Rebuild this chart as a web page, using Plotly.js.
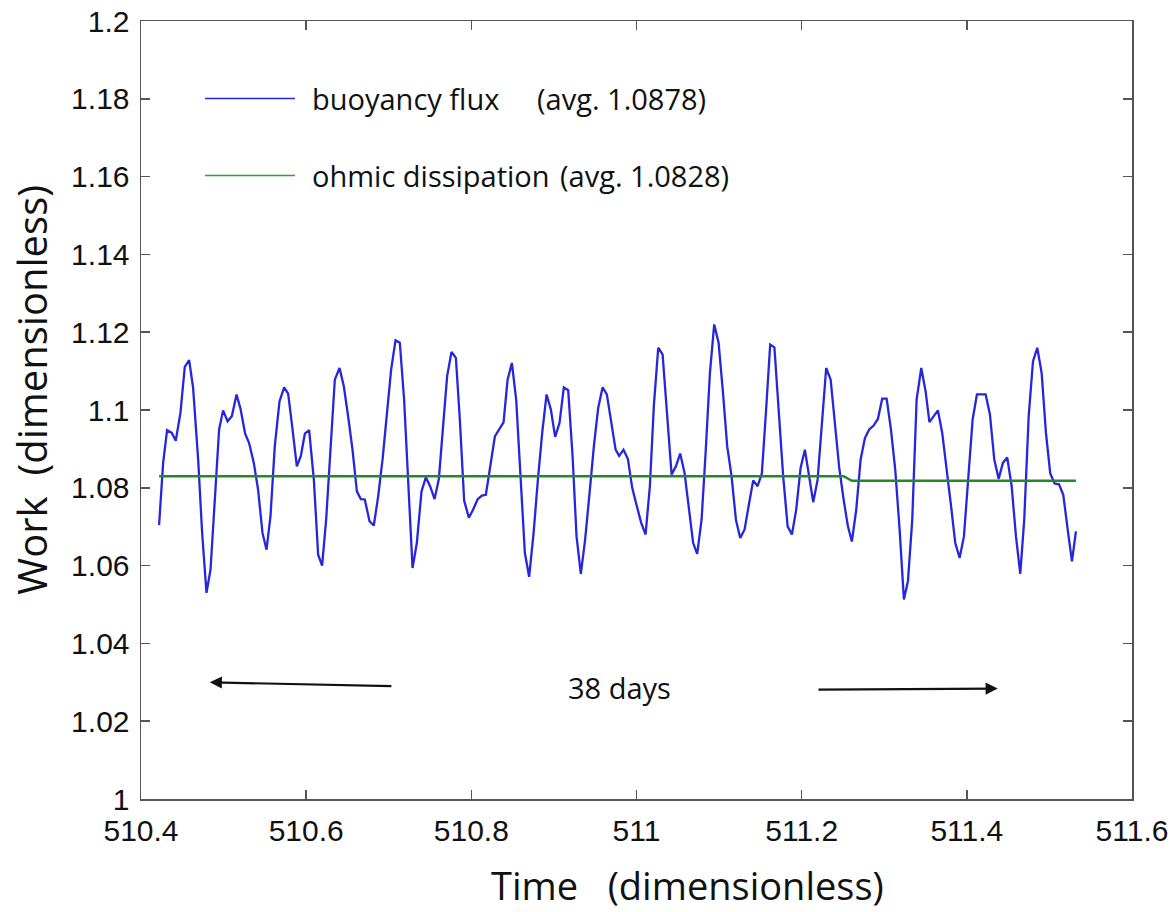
<!DOCTYPE html>
<html>
<head>
<meta charset="utf-8">
<script src="https://cdn.plot.ly/plotly-3.0.1.min.js"></script>
<style>html,body{margin:0;padding:0;background:#fff;}#chart{width:1176px;height:912px;}</style>
</head>
<body>
<div id="chart"></div>
<script>
// Time (dimensionless)
const time = [
510.4219,510.4268,510.4316,510.4373,510.4421,510.4478,510.4530,510.4583,510.4631,510.4692,
510.4740,510.4793,510.4842,510.4894,510.4946,510.4994,510.5048,510.5100,510.5157,510.5205,
510.5261,510.5309,510.5366,510.5418,510.5471,510.5520,510.5568,510.5620,510.5677,510.5733,
510.5782,510.5835,510.5887,510.5935,510.5984,510.6036,510.6093,510.6145,510.6193,510.6242,
510.6295,510.6347,510.6404,510.6456,510.6508,510.6561,510.6614,510.6662,510.6710,510.6767,
510.6819,510.6872,510.6925,510.6977,510.7029,510.7082,510.7134,510.7186,510.7235,510.7288,
510.7340,510.7397,510.7449,510.7501,510.7555,510.7607,510.7655,510.7707,510.7760,510.7813,
510.7861,510.7913,510.7970,510.8022,510.8075,510.8127,510.8176,510.8233,510.8285,510.8337,
510.8390,510.8439,510.8491,510.8543,510.8596,510.8648,510.8700,510.8754,510.8806,510.8858,
510.8911,510.8963,510.9015,510.9068,510.9120,510.9173,510.9226,510.9274,510.9326,510.9378,
510.9432,510.9484,510.9536,510.9589,510.9641,510.9693,510.9747,510.9790,510.9843,510.9896,
510.9948,511.0005,511.0057,511.0110,511.0162,511.0210,511.0263,511.0316,511.0368,511.0425,
511.0477,511.0529,511.0582,511.0634,511.0686,511.0735,511.0788,511.0837,511.0889,511.0941,
511.0994,511.1046,511.1098,511.1151,511.1204,511.1256,511.1309,511.1361,511.1413,511.1466,
511.1518,511.1567,511.1619,511.1670,511.1716,511.1776,511.1830,511.1882,511.1934,511.1987,
511.2039,511.2091,511.2140,511.2193,511.2245,511.2297,511.2351,511.2403,511.2455,511.2508,
511.2560,511.2608,511.2661,511.2714,511.2766,511.2818,511.2871,511.2923,511.2975,511.3029,
511.3081,511.3133,511.3186,511.3238,511.3287,511.3339,511.3392,511.3448,511.3501,511.3547,
511.3598,511.3650,511.3702,511.3755,511.3807,511.3860,511.3913,511.3965,511.4017,511.4070,
511.4122,511.4174,511.4228,511.4280,511.4332,511.4385,511.4437,511.4489,511.4543,511.4595,
511.4647,511.4695,511.4749,511.4801,511.4853,511.4906,511.4958,511.5010,511.5063,511.5116,
511.5168,511.5221,511.5273,511.5321
];
// Work, buoyancy flux
const buoyancyFlux = [
1.0704,1.0864,1.0948,1.0941,1.0921,1.0993,1.1111,1.1128,1.1057,1.0873,
1.0685,1.0530,1.0590,1.0770,1.0950,1.0999,1.0971,1.0984,1.1040,1.1003,
1.0939,1.0915,1.0864,1.0795,1.0684,1.0641,1.0727,1.0907,1.1022,1.1058,
1.1042,1.0950,1.0855,1.0881,1.0939,1.0948,1.0821,1.0628,1.0600,1.0718,
1.0907,1.1078,1.1108,1.1061,1.0984,1.0898,1.0791,1.0771,1.0770,1.0714,
1.0703,1.0778,1.0873,1.0993,1.1104,1.1179,1.1173,1.1027,1.0821,1.0594,
1.0658,1.0791,1.0827,1.0804,1.0771,1.0823,1.0950,1.1087,1.1149,1.1134,
1.0975,1.0767,1.0723,1.0744,1.0770,1.0780,1.0782,1.0855,1.0932,1.0950,
1.0968,1.1078,1.1121,1.1027,1.0838,1.0633,1.0571,1.0684,1.0821,1.0941,
1.1040,1.1001,1.0931,1.0967,1.1058,1.1051,1.0881,1.0675,1.0579,1.0667,
1.0787,1.0907,1.1005,1.1058,1.1040,1.0975,1.0898,1.0882,1.0898,1.0874,
1.0800,1.0752,1.0710,1.0680,1.0804,1.1010,1.1160,1.1143,1.0993,1.0834,
1.0855,1.0888,1.0838,1.0752,1.0658,1.0630,1.0718,1.0890,1.1095,1.1220,
1.1173,1.1048,1.0907,1.0830,1.0718,1.0671,1.0693,1.0757,1.0819,1.0804,
1.0837,1.0993,1.1168,1.1161,1.1018,1.0830,1.0701,1.0680,1.0744,1.0851,
1.0898,1.0830,1.0763,1.0821,1.0967,1.1108,1.1078,1.0958,1.0851,1.0770,
1.0701,1.0662,1.0744,1.0873,1.0928,1.0950,1.0960,1.0977,1.1029,1.1029,
1.0950,1.0847,1.0693,1.0513,1.0560,1.0718,1.1027,1.1108,1.1048,1.0969,
1.0984,1.0999,1.0941,1.0855,1.0757,1.0658,1.0620,1.0675,1.0830,1.0975,
1.1040,1.1040,1.1040,1.0988,1.0873,1.0823,1.0864,1.0878,1.0804,1.0675,
1.0579,1.0718,1.0984,1.1125,1.1160,1.1095,1.0941,1.0837,1.0811,1.0809,
1.0782,1.0693,1.0611,1.0688
];
// Work, ohmic dissipation (running level)
const ohmicTime = [510.4219, 511.2508, 511.2608, 511.5321];
const ohmicDissipation = [1.0830, 1.0830, 1.0818, 1.0818];

const xTicks = [510.4, 510.6, 510.8, 511, 511.2, 511.4, 511.6];
const xTickText = ["510.4", "510.6", "510.8", "511", "511.2", "511.4", "511.6"];
const yTicks = [1, 1.02, 1.04, 1.06, 1.08, 1.1, 1.12, 1.14, 1.16, 1.18, 1.2];
const yTickText = ["1", "1.02", "1.04", "1.06", "1.08", "1.1", "1.12", "1.14", "1.16", "1.18", "1.2"];

const seriesNames = ["buoyancy flux", "ohmic dissipation"];
const seriesAvg = ["(avg. 1.0878)", "(avg. 1.0828)"];
const blue = "#2626dc";
const green = "#24882a";

const arrowLeft = {head: [510.4833, 1.0300], tail: [510.7050, 1.0290]};
const arrowRight = {head: [511.4374, 1.0284], tail: [511.2185, 1.0281]};
const spanLabel = {text: "38 days", x: 510.98, y: 1.0287};

const traces = [
  {x: time, y: buoyancyFlux, type: "scatter", mode: "lines", name: seriesNames[0],
   line: {color: blue, width: 2.3}, showlegend: false},
  {x: ohmicTime, y: ohmicDissipation, type: "scatter", mode: "lines", name: seriesNames[1],
   line: {color: green, width: 2.5}, showlegend: false}
];

const tickFont = {family: "Liberation Sans, Arial, sans-serif", size: 30, color: "#111"};
const textFont = {family: "Open Sans, Noto Sans, sans-serif", size: 29, color: "#111"};

const layout = {
  width: 1176, height: 912,
  margin: {l: 141, r: 44, t: 21, b: 113},
  paper_bgcolor: "#ffffff", plot_bgcolor: "#ffffff",
  showlegend: false,
  xaxis: {
    range: [510.4, 511.6], tickvals: xTicks, ticktext: xTickText,
    ticks: "inside", ticklen: 9, tickwidth: 1.5, tickcolor: "#555",
    showline: true, linecolor: "#555", linewidth: 1.5, mirror: "ticks",
    showgrid: false, zeroline: false, tickfont: tickFont, ticklabelstandoff: 4
  },
  yaxis: {
    range: [1, 1.2], tickvals: yTicks, ticktext: yTickText,
    ticks: "inside", ticklen: 9, tickwidth: 1.5, tickcolor: "#555",
    showline: true, linecolor: "#555", linewidth: 1.5, mirror: "ticks",
    showgrid: false, zeroline: false, tickfont: tickFont, ticklabelstandoff: 4
  },
  shapes: [
    {type: "line", xref: "paper", yref: "paper", x0: 0.0646, x1: 0.1554, y0: 0.9003, y1: 0.9003,
     line: {color: blue, width: 1.5}},
    {type: "line", xref: "paper", yref: "paper", x0: 0.0646, x1: 0.1554, y0: 0.8013, y1: 0.8013,
     line: {color: "#33a033", width: 1.5}}
  ],
  annotations: [
    {xref: "paper", yref: "paper", x: 0.1705, y: 0.9003, xanchor: "left", yanchor: "middle",
     text: seriesNames[0], showarrow: false, font: textFont},
    {xref: "paper", yref: "paper", x: 0.3976, y: 0.9003, xanchor: "left", yanchor: "middle",
     text: seriesAvg[0], showarrow: false, font: textFont},
    {xref: "paper", yref: "paper", x: 0.1705, y: 0.8013, xanchor: "left", yanchor: "middle",
     text: seriesNames[1], showarrow: false, font: textFont},
    {xref: "paper", yref: "paper", x: 0.4208, y: 0.8013, xanchor: "left", yanchor: "middle",
     text: seriesAvg[1], showarrow: false, font: textFont},
    {xref: "x", yref: "y", x: spanLabel.x, y: spanLabel.y, text: spanLabel.text,
     showarrow: false, font: textFont},
    {xref: "x", yref: "y", x: arrowLeft.head[0], y: arrowLeft.head[1],
     axref: "x", ayref: "y", ax: arrowLeft.tail[0], ay: arrowLeft.tail[1],
     text: "", showarrow: true, arrowhead: 2, arrowsize: 1.1, arrowwidth: 2.2, arrowcolor: "#111"},
    {xref: "x", yref: "y", x: arrowRight.head[0], y: arrowRight.head[1],
     axref: "x", ayref: "y", ax: arrowRight.tail[0], ay: arrowRight.tail[1],
     text: "", showarrow: true, arrowhead: 2, arrowsize: 1.1, arrowwidth: 2.2, arrowcolor: "#111"},
    {xref: "paper", yref: "paper", x: 0.551, y: -0.1106, xanchor: "center", yanchor: "middle",
     text: "Time\u00a0\u00a0\u00a0(dimensionless)", showarrow: false,
     font: {family: "Open Sans, Noto Sans, sans-serif", size: 38, color: "#111"}},
    {xref: "paper", yref: "paper", x: -0.110, y: 0.526, xanchor: "center", yanchor: "middle",
     textangle: -90, text: "Work\u00a0\u00a0(dimensionless)", showarrow: false,
     font: {family: "Open Sans, Noto Sans, sans-serif", size: 40, color: "#111"}}
  ]
};

Plotly.newPlot("chart", traces, layout, {displayModeBar: false, staticPlot: true});
</script>
</body>
</html>
